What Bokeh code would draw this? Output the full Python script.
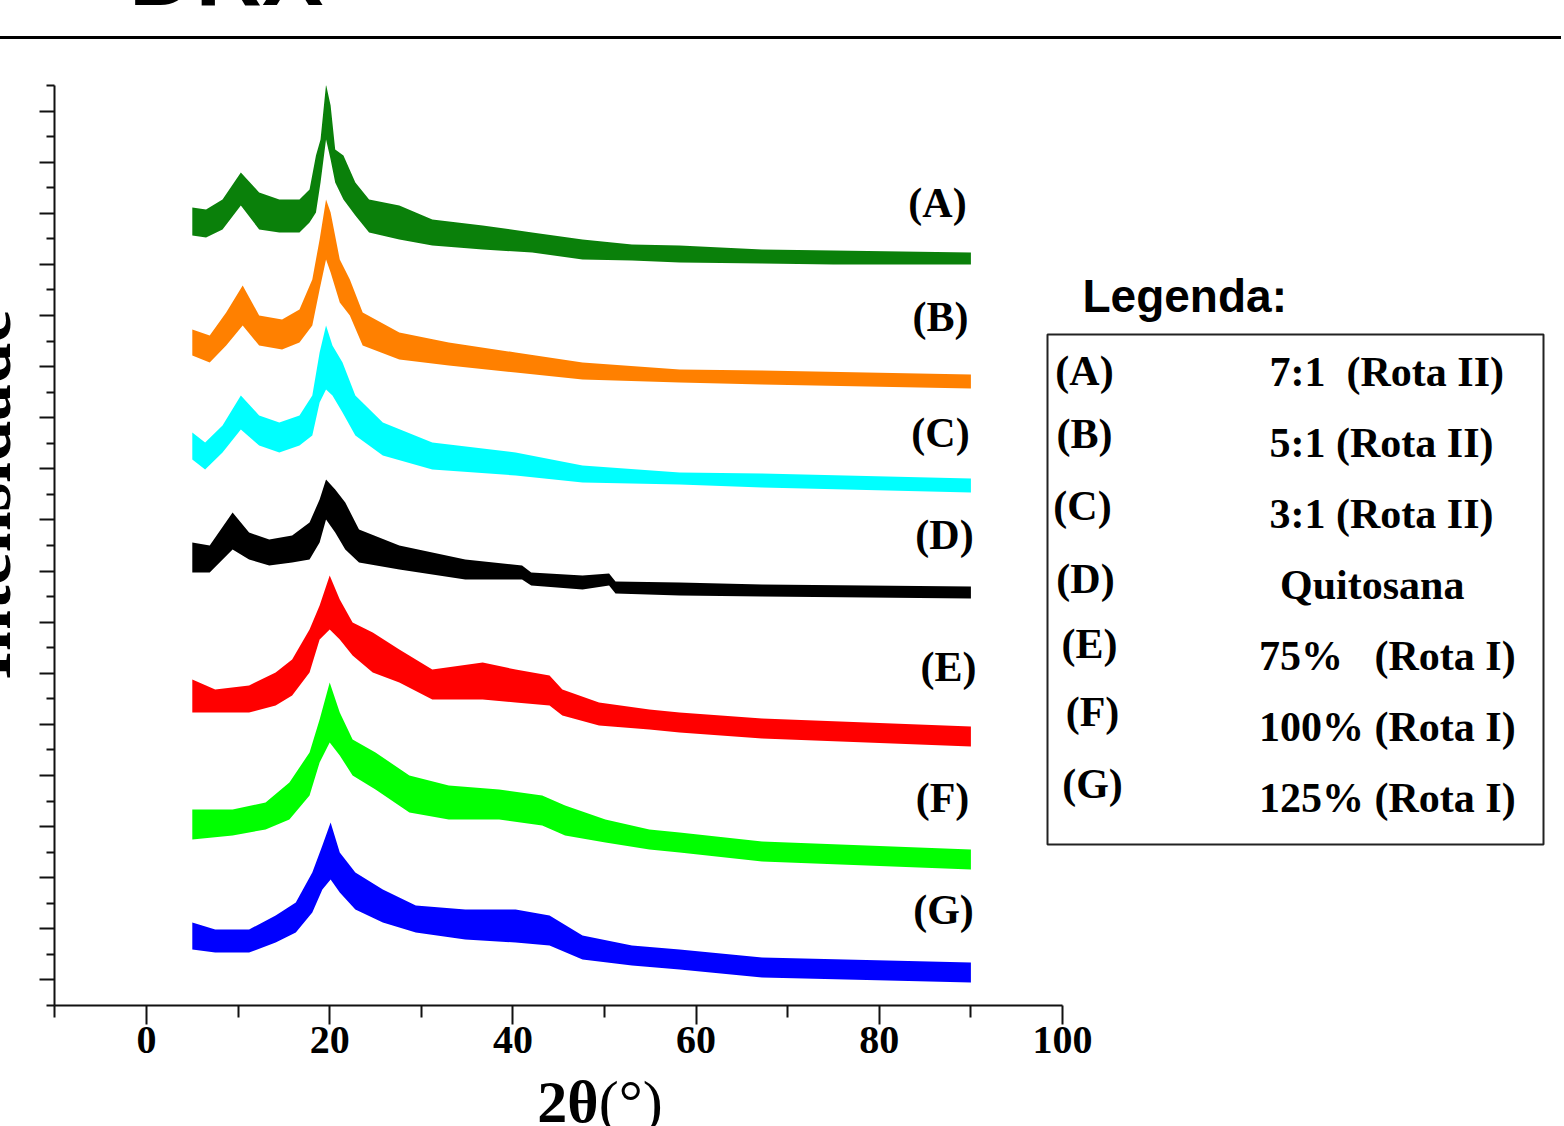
import math
from bokeh.plotting import figure
from bokeh.models import (Range1d, FixedTicker, Label, Legend, LegendItem,
                          BoxAnnotation, Div, CustomJSTickFormatter)
from bokeh.layouts import column, row
from bokeh.embed import file_html
from bokeh.resources import INLINE

# ---------------- data (2theta in degrees, intensity in arbitrary units, stacked) ----
# each pattern is given by the lower and upper edge of its noisy trace
x_A = [5, 6.5, 8.3, 10.3, 12.3, 14.5, 16.7, 17.8, 18.5, 19.0, 19.6, 20.1, 20.6, 21.5, 22.8, 24.3, 27.6, 31.2, 36.7, 42.1, 47.6, 53, 58.2, 67.2, 75, 90]
hi_A = [798, 796, 806, 833, 813, 806, 806, 816, 850, 866, 921, 900, 856, 850, 823, 806, 800, 786, 780, 773, 766, 761, 760, 756, 755, 753]
lo_A = [770, 768, 776, 800, 776, 773, 773, 783, 793, 823, 866, 846, 823, 806, 790, 773, 766, 760, 756, 753, 746, 745, 743, 742, 741, 741]

x_B = [5, 6.9, 8.7, 10.5, 12.3, 14.8, 16.7, 18.1, 18.9, 19.6, 20.1, 21.1, 22.2, 23.6, 27.6, 33, 40.3, 47.6, 58.2, 67.2, 90]
hi_B = [676, 670, 693, 720, 690, 686, 696, 726, 766, 806, 793, 746, 726, 693, 673, 663, 653, 643, 636, 635, 631]
lo_B = [650, 643, 660, 680, 660, 656, 663, 680, 716, 746, 733, 703, 690, 660, 646, 640, 633, 626, 623, 621, 617]

x_C = [5, 6.4, 8.3, 10.3, 12.3, 14.5, 16.7, 18.1, 18.9, 19.6, 20.3, 21.4, 22.8, 25.8, 31.2, 40.3, 47.6, 58.2, 67.2, 90]
hi_C = [573, 563, 580, 610, 590, 583, 590, 610, 653, 680, 660, 643, 610, 583, 563, 553, 540, 533, 532, 527]
lo_C = [546, 536, 553, 576, 560, 553, 560, 570, 603, 616, 610, 593, 570, 550, 536, 530, 523, 521, 518, 513]

x_D = [5, 6.9, 9.4, 11.2, 13.4, 15.9, 17.8, 18.9, 19.6, 20.6, 21.7, 23.2, 27.6, 34.8, 41, 42, 47.6, 50.5, 51.2, 58.2, 67.2, 90]
hi_D = [463, 460, 493, 473, 466, 470, 483, 506, 526, 516, 503, 476, 460, 446, 440, 433, 430, 432, 424, 423, 421, 419]
lo_D = [433, 433, 456, 446, 440, 443, 446, 463, 486, 473, 456, 443, 436, 426, 426, 420, 416, 420, 412, 410, 409, 407]

x_E = [5, 7.5, 11.2, 14.1, 15.9, 17.8, 18.9, 20, 21.1, 22.5, 24.7, 27.6, 31.2, 36.7, 40.3, 44, 45.4, 49.4, 54.9, 58.2, 67.2, 90]
hi_E = [326, 316, 320, 333, 346, 376, 400, 430, 406, 383, 373, 356, 336, 343, 336, 330, 316, 303, 296, 293, 287, 279]
lo_E = [293, 293, 293, 300, 310, 333, 366, 376, 366, 350, 333, 323, 306, 306, 303, 300, 290, 280, 276, 273, 267, 259]

x_F = [5, 9.4, 13, 15.6, 17.8, 18.9, 20, 21.1, 22.5, 25, 28.7, 33, 38.5, 43.2, 45.7, 50.1, 54.9, 58.2, 67.2, 90]
hi_F = [196, 196, 203, 223, 253, 286, 323, 293, 266, 253, 230, 220, 216, 210, 200, 186, 176, 173, 164, 156]
lo_F = [166, 170, 176, 186, 210, 243, 263, 250, 230, 216, 193, 186, 186, 180, 170, 163, 156, 153, 144, 136]

x_G = [5, 7.5, 11.2, 14.1, 16.3, 18.1, 19.2, 20.1, 21.1, 22.8, 25.8, 29.4, 34.8, 40.3, 44, 47.6, 53, 58.2, 67.2, 90]
hi_G = [83, 76, 76, 90, 103, 133, 160, 183, 153, 133, 116, 100, 96, 96, 90, 70, 60, 56, 48, 43]
lo_G = [56, 53, 53, 63, 73, 93, 116, 126, 113, 96, 83, 73, 66, 63, 60, 46, 40, 36, 28, 23]

tags = ["(A)", "(B)", "(C)", "(D)", "(E)", "(F)", "(G)"]
legend_texts = [" 7:1  (Rota II)", " 5:1 (Rota II)", " 3:1 (Rota II)", "  Quitosana",
                "75%   (Rota I)", "100% (Rota I)", "125% (Rota I)"]
x_ticks = [0, 20, 40, 60, 80, 100]
x_minor = [-10, 10, 30, 50, 70, 90]
title_text = "DRX"
y_title = "Intensidade"

# ---------------- styling / layout ----------------
curve_colors = ["#0A800A", "#FF8000", "#00FFFF", "#000000", "#FF0000", "#00FF00", "#0000FF"]
legend_colors = ["#0B7A1A", "#E8A838", "#3EDAD6", "#000000", "#FF0000", "#00E000", "#0D2A88"]
SERIF = "Liberation Serif"

W = 1564
H_TOP = 42            # header strip (title + rule)
H_BOT = 54            # strip holding the x title
W_LEFT = 16           # strip holding the (cut) y title
H_MID = 1126 - H_TOP - H_BOT
X0, PXU = 144.0, 9.16          # page pixel of 2theta = 0, pixels per degree
FRAME_LEFT, FRAME_TOP, FRAME_BOTTOM = 52.0, 83.0, 1003.0


def X(px):
    return (px - X0) / PXU


def Y(py):
    return FRAME_BOTTOM - py


p = figure(width=W - W_LEFT, height=H_MID, output_backend="svg", toolbar_location=None,
           x_range=Range1d(X(FRAME_LEFT), X(W)), y_range=Range1d(0, FRAME_BOTTOM - FRAME_TOP),
           min_border_left=int(FRAME_LEFT - W_LEFT), min_border_right=0,
           min_border_top=int(FRAME_TOP - H_TOP),
           min_border_bottom=int(H_TOP + H_MID - FRAME_BOTTOM))
p.outline_line_color = None
p.grid.visible = False
p.background_fill_color = "white"
p.border_fill_color = "white"

series = [(x_A, lo_A, hi_A), (x_B, lo_B, hi_B), (x_C, lo_C, hi_C), (x_D, lo_D, hi_D),
          (x_E, lo_E, hi_E), (x_F, lo_F, hi_F), (x_G, lo_G, hi_G)]
for (xs, lo, hi), c in zip(series, curve_colors):
    p.varea(x=xs, y1=lo, y2=hi, fill_color=c)

# axes
xa = p.xaxis[0]
xa.ticker = FixedTicker(ticks=x_ticks, minor_ticks=x_minor)
xa.bounds = (-10, 100)
xa.axis_line_width = 2
xa.axis_line_color = "#111111"
xa.major_tick_line_width = 2
xa.minor_tick_line_width = 2
xa.major_tick_line_color = "#111111"
xa.minor_tick_line_color = "#111111"
xa.major_tick_out = 19
xa.major_tick_in = 0
xa.minor_tick_out = 12
xa.minor_tick_in = 0
xa.major_label_standoff = 2
xa.major_label_text_font = SERIF
xa.major_label_text_font_style = "bold"
xa.major_label_text_font_size = "40px"
xa.major_label_text_color = "black"

ya = p.yaxis[0]
span_y = FRAME_BOTTOM - FRAME_TOP
ymaj = [span_y * k / 36 for k in range(1, 36, 2)]
ymin = [span_y * k / 36 for k in range(0, 37, 2)]
ya.ticker = FixedTicker(ticks=ymaj, minor_ticks=ymin)
ya.bounds = (0, span_y)
ya.formatter = CustomJSTickFormatter(code="return ''")
ya.axis_line_width = 2
ya.axis_line_color = "#111111"
ya.major_tick_line_width = 2
ya.minor_tick_line_width = 2
ya.major_tick_line_color = "#111111"
ya.minor_tick_line_color = "#111111"
ya.major_tick_out = 15
ya.major_tick_in = 0
ya.minor_tick_out = 8
ya.minor_tick_in = 0

# curve tags
tag_px = [(935, 200), (938, 314), (938, 430), (942, 532), (946, 664), (940, 795), (941, 907)]
for t, (tx, ty) in zip(tags, tag_px):
    p.add_layout(Label(x=X(tx), y=Y(ty), text=t, text_align="center", text_baseline="middle",
                       text_font=SERIF, text_font_style="bold", text_font_size="42px",
                       text_color="black"))

# legend
p.add_layout(Label(x=X(1080), y=Y(293), text="Legenda:", text_align="left",
                   text_baseline="alphabetic", text_font="Liberation Sans",
                   text_font_style="bold", text_font_size="46px", text_color="black"))
p.add_layout(BoxAnnotation(left=X(1045), right=X(1541), top=Y(332), bottom=Y(842),
                           fill_alpha=0, line_color="#222222", line_alpha=1.0, line_width=2))
items = []
for lt, lc in zip(legend_texts, legend_colors):
    r = p.line(x=[], y=[], line_color=lc, line_width=4)
    items.append(LegendItem(label=lt, renderers=[r]))
PAD = 10
leg_h = 2 * PAD + 7 * 46 + 6 * 23
leg_top = 350 - PAD
legend = Legend(items=items, location=(1137 - PAD - FRAME_LEFT, FRAME_BOTTOM - (leg_top + leg_h)),
                orientation="vertical", glyph_width=58, glyph_height=46, label_height=46,
                spacing=23, padding=PAD, margin=0, label_standoff=72,
                label_text_font=SERIF, label_text_font_style="bold",
                label_text_font_size="42px", label_text_baseline="middle",
                label_text_color="black", border_line_color=None, background_fill_alpha=0)
p.add_layout(legend)
tag_leg = [(1082, 368), (1082, 431), (1080, 503), (1083, 576), (1087, 641), (1090, 709), (1090, 781)]
for t, (tx, ty) in zip(tags, tag_leg):
    p.add_layout(Label(x=X(tx), y=Y(ty), text=t, text_align="center", text_baseline="middle",
                       text_font=SERIF, text_font_style="bold", text_font_size="42px",
                       text_color="black"))

# header strip: cut-off title and rule line
header = Div(width=W, height=H_TOP, text=(
    '<div style="position:relative;width:%dpx;height:%dpx;overflow:hidden;">'
    '<div style="position:absolute;left:132px;top:-70px;font-family:\'Liberation Sans\';'
    'font-weight:bold;font-size:92px;line-height:1;color:#000;white-space:nowrap;">%s</div>'
    '<div style="position:absolute;left:0;top:39px;width:%dpx;height:4px;background:#000;"></div>'
    '</div>') % (W, H_TOP, title_text, W))

# left strip: y title, rotated and mostly outside the page as in the original
left = Div(width=W_LEFT, height=H_MID, text=(
    '<div style="position:relative;width:%dpx;height:%dpx;overflow:hidden;">'
    '<div style="position:absolute;left:13px;top:%dpx;transform-origin:0 0;'
    'transform:rotate(-90deg) translate(-50%%, -62px);font-family:\'Liberation Serif\';'
    'font-weight:bold;font-size:74px;line-height:1;color:#000;white-space:nowrap;">%s</div>'
    '</div>') % (W_LEFT, H_MID, 488 - H_TOP, y_title))

# bottom strip: x title (its top may rise above the strip, the window cuts its foot)
bottom = Div(width=W, height=H_BOT, text=(
    '<div style="position:relative;width:%dpx;height:%dpx;overflow:visible;">'
    '<div style="position:absolute;left:603px;top:-17px;transform:translateX(-50%%);'
    'font-family:\'Liberation Serif\';font-size:60px;line-height:1;color:#000;'
    'white-space:nowrap;"><b>2θ</b>(°)</div>'
    '</div>') % (W, H_BOT))

# the original figure is flush with the window edges: cancel the page margin
layout = column(header, row(left, p, spacing=0), bottom, spacing=0,
                styles={"margin-left": "-8px", "margin-top": "-8px"})
open("out.html", "w").write(file_html(layout, INLINE))
